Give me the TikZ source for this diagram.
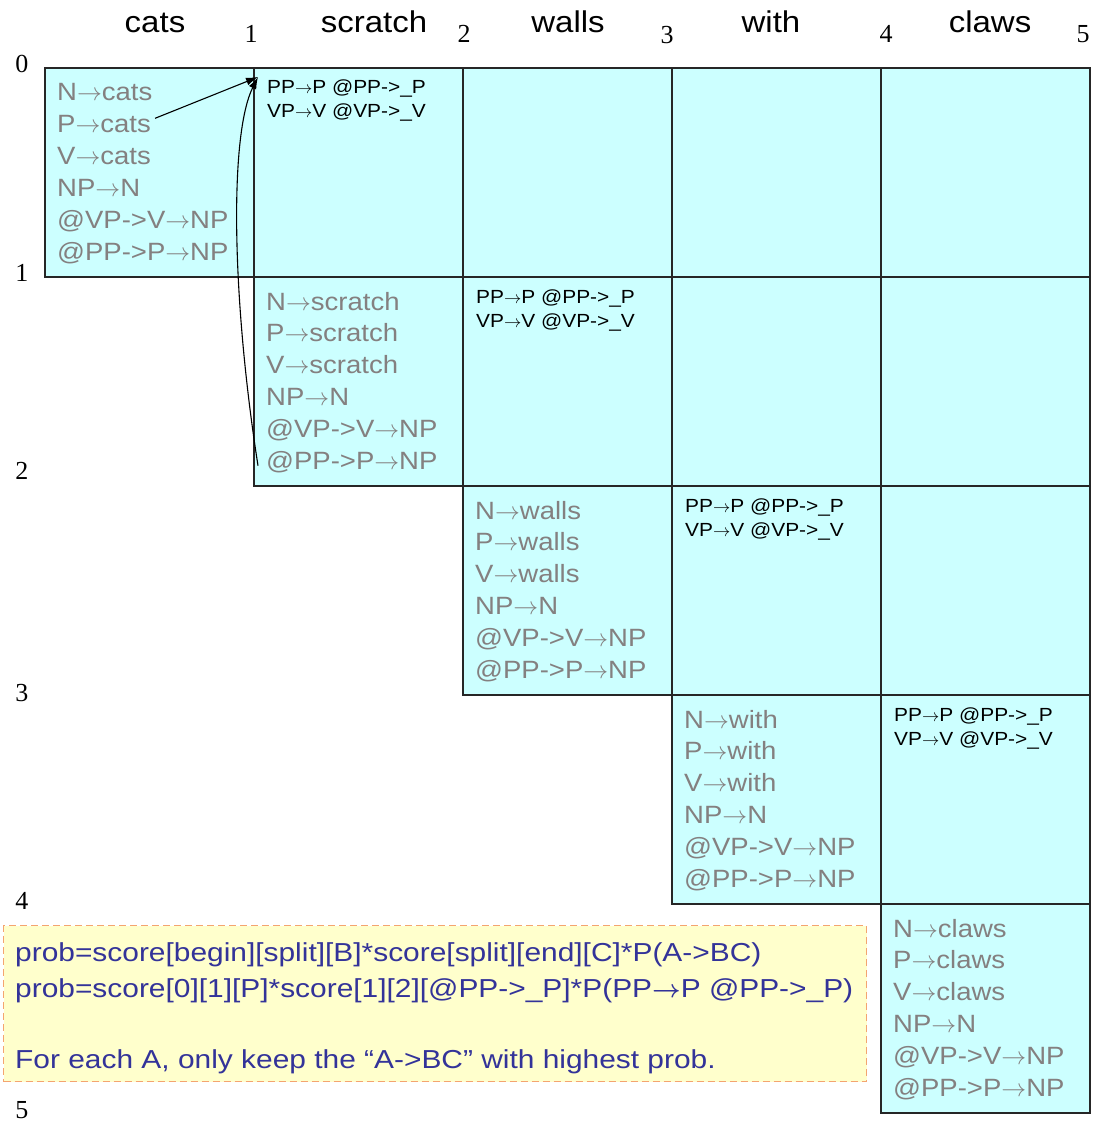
\documentclass[tikz,border=0pt]{standalone}
\usepackage{fontspec}
\setmainfont[FakeStretch=1.1]{Liberation Sans}
\newfontfamily\numfont{Liberation Serif}
\newfontfamily\notefont[FakeStretch=1.15]{Liberation Sans}
\usetikzlibrary{arrows.meta,calc}

\definecolor{cellfill}{RGB}{204,255,255}
\definecolor{lexgray}{RGB}{132,128,128}
\definecolor{notefill}{RGB}{255,255,204}
\definecolor{noteedge}{RGB}{244,164,112}
\definecolor{noteblue}{RGB}{51,51,153}

% thin rule arrow and the heavy one used in the note
\newcommand\ruleto{\ensuremath{\rightarrow}}
\newcommand\heavyto{\mbox{\boldmath$\rightarrow$}}

\begin{document}
\begin{tikzpicture}[x=1pt,y=-1pt,
  cell/.style={draw=black!85, line width=1.2pt, fill=cellfill,
    minimum width=209pt, minimum height=209pt, inner sep=0pt, outer sep=0pt},
  lex/.style={text=lexgray, font=\fontsize{25}{30}\selectfont, inner sep=0pt, anchor=base west},
  bin/.style={text=black, font=\fontsize{19}{23}\selectfont, inner sep=0pt, anchor=base west},
  word/.style={font=\fontsize{30}{34}\selectfont, inner sep=0pt, anchor=base},
  num/.style={font=\numfont\fontsize{26}{30}\selectfont, inner sep=0pt, anchor=base},
  note/.style={draw=noteedge, fill=notefill, line width=1.2pt, dash pattern=on 7pt off 4pt,
    minimum width=863pt, minimum height=156pt, inner sep=0pt, anchor=north west},
  notetext/.style={text=noteblue, font=\notefont\fontsize{26}{30}\selectfont, inner sep=0pt, anchor=base west},
  link/.style={-{Latex[length=12pt,width=8pt]}, line width=1.1pt}]

\useasboundingbox (0,0) rectangle (1093,1123);

% chart cells (upper triangle)
\foreach \i in {0,...,4}
  \foreach \j in {\i,...,4}
    \node[cell] (c\i\j) at ({45+209*\j+104.5},{68+209*\i+104.5}) {};

% words above the columns
\node[word] (w0) at (155,33) {cats};
\node[word] (w1) at (374,33) {scratch};
\node[word] (w2) at (568,33) {walls};
\node[word] (w3) at (771,33) {with};
\node[word] (w4) at (990,33) {claws};

% span boundaries along the top
\node[num] (t1) at (251,43) {1};
\node[num] (t2) at (464,43) {2};
\node[num] (t3) at (667,44) {3};
\node[num] (t4) at (886,43) {4};
\node[num] (t5) at (1083,43) {5};

% span boundaries down the left
\node[num] (s0) at (22,73) {0};
\node[num] (s1) at (22,281) {1};
\node[num] (s2) at (22,479) {2};
\node[num] (s3) at (22,701) {3};
\node[num] (s4) at (22,909) {4};
\node[num] (s5) at (22,1118) {5};

% lexical rules on the diagonal
\foreach \w [count=\k from 0] in {cats,scratch,walls,with,claws} {
  \foreach \r [count=\l] in {N\ruleto\w, P\ruleto\w, V\ruleto\w, NP\ruleto N, @VP->V\ruleto NP, @PP->P\ruleto NP}
    \node[lex] (l\k-\l) at ($(c\k\k.north west)+(12,{33+31.8*(\l-1)})$) {\r};
}

% binary rules one step above the diagonal
\foreach \i [evaluate=\i as \j using int(\i+1)] in {0,...,3} {
  \node[bin] (b\i-1) at ($(c\i\j.north west)+(13,26)$) {PP\ruleto P @PP->\_P};
  \node[bin] (b\i-2) at ($(c\i\j.north west)+(13,50)$) {VP\ruleto V @VP->\_V};
}

% combining P over [0,1] with @PP->_P over [1,2]
\coordinate (hit) at ($(c01.north west)+(4,9)$);
\coordinate (from1) at ($(l0-2.east)+(4,-6)$);
\coordinate (from2) at ($(l1-6.west)+(-8,4)$);
\draw[link] (from1) -- (hit);
\draw[link] (from2) .. controls (232,300) and (229,135) .. (hit);

% note box
\node[note] (note) at (3,925) {};
\node[notetext] (n1) at (15,961) {prob=score[begin][split][B]*score[split][end][C]*P(A->BC)};
\node[notetext] (n2) at (15,997) {prob=score[0][1][P]*score[1][2][@PP->\_P]*P(PP\heavyto P @PP->\_P)};
\node[notetext] (n3) at (15,1068) {For each A, only keep the “A->BC” with highest prob.};

\end{tikzpicture}
\end{document}
